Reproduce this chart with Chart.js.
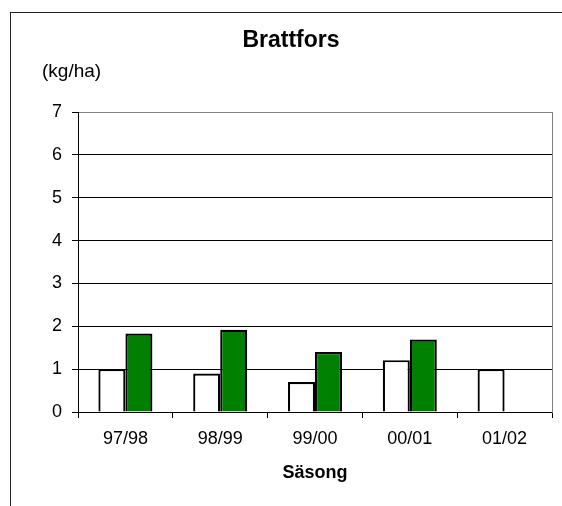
<!DOCTYPE html>
<html>
<head>
<meta charset="utf-8">
<script src="https://cdn.jsdelivr.net/npm/chart.js@4.4.1/dist/chart.umd.min.js"></script>
<style>
  html, body { margin: 0; padding: 0; background: #fff; overflow: hidden; }
  #frame {
    position: absolute; left: 10px; top: 12px; width: 700px; height: 700px;
    border-left: 1px solid #222; border-top: 1px solid #222;
  }
  #wrap { position: absolute; left: 0; top: 0; width: 562px; height: 506px; }
</style>
</head>
<body>
<div id="frame"></div>
<div id="wrap"><canvas id="chart"></canvas></div>
<script>
// seasons on the x axis
const seasons = ['97/98', '98/99', '99/00', '00/01', '01/02'];
// first series (white bars)
const whiteValues = [1.0, 0.9, 0.7, 1.21, 1.0];
// second series (green bars), no value for 01/02
const greenValues = [1.83, 1.92, 1.4, 1.69, null];

const yMin = 0;
const yMax = 7;

const fontFamily = '"Liberation Sans", Arial, sans-serif';

// unit label above the value axis
const unitLabel = {
  id: 'unitLabel',
  afterDraw(chart) {
    const ctx = chart.ctx;
    ctx.save();
    ctx.font = '19px ' + fontFamily;
    ctx.fillStyle = '#000';
    ctx.textAlign = 'left';
    ctx.textBaseline = 'middle';
    ctx.fillText('(kg/ha)', 42, 72);
    ctx.restore();
  }
};

const config = {
  type: 'bar',
  data: {
    labels: seasons,
    datasets: [
      {
        data: whiteValues,
        backgroundColor: '#ffffff',
        borderColor: '#000000',
        borderWidth: 2.2,
        borderSkipped: 'bottom'
      },
      {
        data: greenValues,
        backgroundColor: '#008000',
        borderColor: '#000000',
        borderWidth: 2.2,
        borderSkipped: 'bottom'
      }
    ]
  },
  options: {
    responsive: true,
    maintainAspectRatio: false,
    animation: false,
    layout: { padding: { left: 30, right: 10, top: 0, bottom: 0 } },
    datasets: {
      bar: { categoryPercentage: 0.57, barPercentage: 1.0 }
    },
    plugins: {
      legend: { display: false },
      tooltip: { enabled: false },
      title: {
        display: true,
        text: 'Brattfors',
        color: '#000',
        font: { family: fontFamily, size: 23, weight: 'bold' },
        padding: { top: 27, bottom: 57.4 }
      }
    },
    scales: {
      x: {
        grid: {
          offset: true,
          drawOnChartArea: false,
          drawTicks: true,
          tickLength: 6,
          color: '#000'
        },
        border: { color: '#000', width: 1 },
        ticks: {
          color: '#000',
          padding: 10,
          font: { family: fontFamily, size: 18 }
        },
        title: {
          display: true,
          text: 'Säsong',
          color: '#000',
          font: { family: fontFamily, size: 18, weight: 'bold' },
          padding: { top: 4, bottom: 22 }
        },
        afterFit(scale) { scale.height = 94; }
      },
      y: {
        min: yMin,
        max: yMax,
        ticks: {
          stepSize: 1,
          color: '#000',
          padding: 10,
          font: { family: fontFamily, size: 18 }
        },
        grid: {
          color: (c) => (c.tick && c.tick.value === yMax ? '#808080' : '#000'),
          tickColor: '#000',
          tickLength: 6
        },
        border: { color: '#000', width: 1 },
        afterFit(scale) { scale.width = 48; }
      },
      y2: {
        position: 'right',
        display: true,
        grid: { drawOnChartArea: false, drawTicks: false },
        ticks: { display: false },
        border: { color: '#808080', width: 1 },
        afterFit(scale) { scale.width = 0; }
      }
    }
  },
  plugins: [unitLabel]
};

const chart = new Chart(document.getElementById('chart'), config);
</script>
</body>
</html>
